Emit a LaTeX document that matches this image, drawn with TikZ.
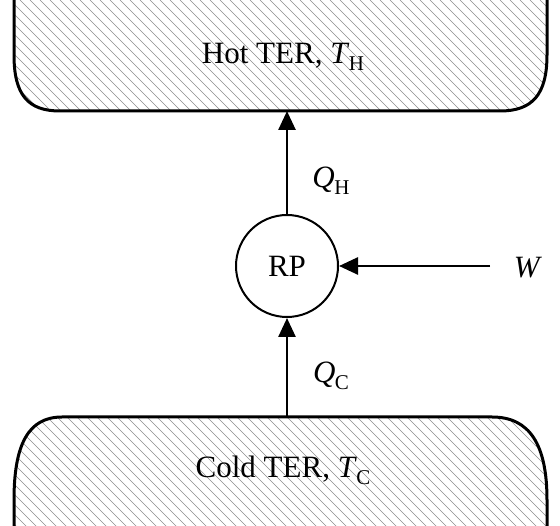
\documentclass[tikz,border=0pt]{standalone}
\usepackage{fontspec}
\setmainfont{Liberation Serif}
\usetikzlibrary{arrows.meta, positioning, calc}
\newcommand{\symsub}[2]{\textit{#1}\kern-0.5pt\raisebox{-0.22em}{\fontsize{21}{23}\selectfont #2}}

\begin{document}
\begin{tikzpicture}[
    x=1pt, y=-1pt,
    wall/.style={line width=3pt, line cap=round},
    hatch/.style={draw=black!45, line width=0.55pt},
    flow/.style={line width=2.6pt, -{Triangle[length=19pt, width=17pt]}},
    label/.style={font=\fontsize{31}{34}\selectfont, inner sep=0pt}
]
    \useasboundingbox (0,0) rectangle (560,526);

    % hot reservoir
    \begin{scope}
        \clip (14,0) -- (14,55) .. controls (14,95) and (28,111) .. (60,111)
            -- (500,111) .. controls (532,111) and (547,95) .. (547,55) -- (547,0) -- cycle;
        \foreach \i in {-600,-590,...,600}
            \draw[hatch] (\i,0) -- ++(600,600);
    \end{scope}
    \draw[wall] (14,0) -- (14,55) .. controls (14,95) and (28,111) .. (60,111)
        -- (500,111) .. controls (532,111) and (547,95) .. (547,55) -- (547,0);

    % cold reservoir
    \begin{scope}
        \clip (14,526) -- (14,500) .. controls (14,445) and (28,417) .. (62,417)
            -- (492,417) .. controls (530,417) and (547,445) .. (547,500) -- (547,526) -- cycle;
        \foreach \i in {-600,-590,...,600}
            \draw[hatch] (\i,0) -- ++(600,600);
    \end{scope}
    \draw[wall] (14,526) -- (14,500) .. controls (14,445) and (28,417) .. (62,417)
        -- (492,417) .. controls (530,417) and (547,445) .. (547,500) -- (547,526);

    \node[label] (hot) at (283,57) {Hot TER, \symsub{T}{H}};
    \node[label] (cold) at (283,470) {Cold TER, \symsub{T}{C}};

    \coordinate (hotb) at (287,111);
    \coordinate (coldt) at (287,417);
    \coordinate (wstart) at (490,266);

    \node[draw, circle, line width=2pt, minimum size=102pt, label] (rp) at (287,266) {RP};
    \node[label] (w) at (528,268) {\textit{W}};
    \node[label] (qh) at (331,181) {\symsub{Q}{H}};
    \node[label] (qc) at (331,376) {\symsub{Q}{C}};

    \draw[flow] (rp) -- (hotb);
    \draw[flow] (coldt) -- (rp);
    \draw[flow] (wstart) -- (rp);
\end{tikzpicture}
\end{document}
